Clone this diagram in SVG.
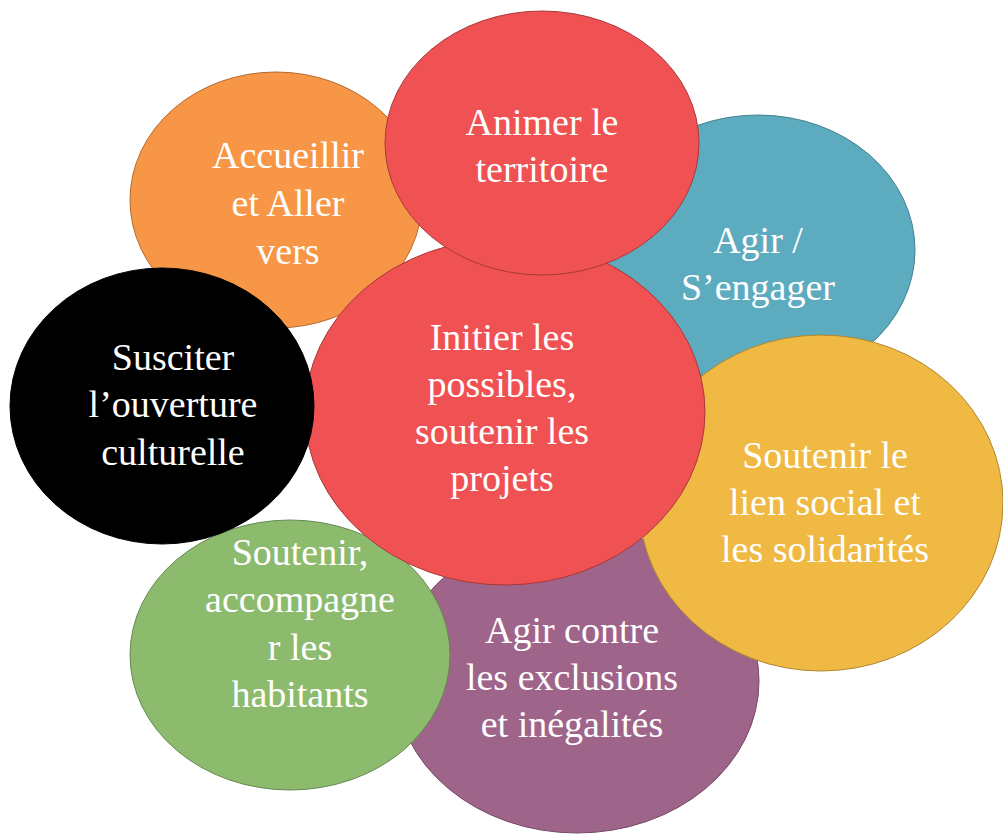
<svg xmlns="http://www.w3.org/2000/svg" width="1003" height="834" viewBox="0 0 1003 834">
<style>
.e{stroke-width:1}
.t{font-family:"Liberation Serif",serif;font-size:38px;fill:#fff;text-anchor:middle}
</style>
<rect width="1003" height="834" fill="#fff"/>
<g id="n-accueillir">
<ellipse class="e" cx="276" cy="200" rx="146" ry="128" fill="#F79646" stroke="#B5692F"/>
<text class="t" x="288" y="168">Accueillir</text>
<text class="t" x="288" y="216">et Aller</text>
<text class="t" x="288" y="264">vers</text>
</g>
<g id="n-agir">
<ellipse class="e" cx="758" cy="250" rx="157" ry="135" fill="#5DABBF" stroke="#44808F"/>
<text class="t" x="758" y="253">Agir /</text>
<text class="t" x="758" y="300">S’engager</text>
</g>
<g id="n-exclusions">
<ellipse class="e" cx="577" cy="681" rx="182" ry="152" fill="#9F6489" stroke="#744866"/>
<text class="t" x="572" y="643">Agir contre</text>
<text class="t" x="572" y="690">les exclusions</text>
<text class="t" x="572" y="737">et inégalités</text>
</g>
<g id="n-lien">
<ellipse class="e" cx="821" cy="503" rx="182" ry="168" fill="#EFB944" stroke="#B08630"/>
<text class="t" x="825" y="468">Soutenir le</text>
<text class="t" x="825" y="515">lien social et</text>
<text class="t" x="825" y="562">les solidarités</text>
</g>
<g id="n-habitants">
<ellipse class="e" cx="290" cy="655" rx="160" ry="135" fill="#8DBB6E" stroke="#658A4F"/>
<text class="t" x="300" y="565">Soutenir,</text>
<text class="t" x="300" y="612">accompagne</text>
<text class="t" x="300" y="660">r les</text>
<text class="t" x="300" y="707">habitants</text>
</g>
<g id="n-initier">
<ellipse class="e" cx="505" cy="412" rx="200" ry="173" fill="#F05152" stroke="#A8393A"/>
<text class="t" x="502" y="350">Initier les</text>
<text class="t" x="502" y="397">possibles,</text>
<text class="t" x="502" y="444">soutenir les</text>
<text class="t" x="502" y="491">projets</text>
</g>
<g id="n-animer">
<ellipse class="e" cx="542" cy="143" rx="157" ry="132" fill="#F05152" stroke="#A8393A"/>
<text class="t" x="542" y="135">Animer le</text>
<text class="t" x="542" y="182">territoire</text>
</g>
<g id="n-susciter">
<ellipse class="e" cx="162" cy="406" rx="152" ry="138" fill="#000" stroke="#000"/>
<text class="t" x="173" y="370">Susciter</text>
<text class="t" x="173" y="417">l’ouverture</text>
<text class="t" x="173" y="465">culturelle</text>
</g>
<g id="connectors"/>
</svg>
